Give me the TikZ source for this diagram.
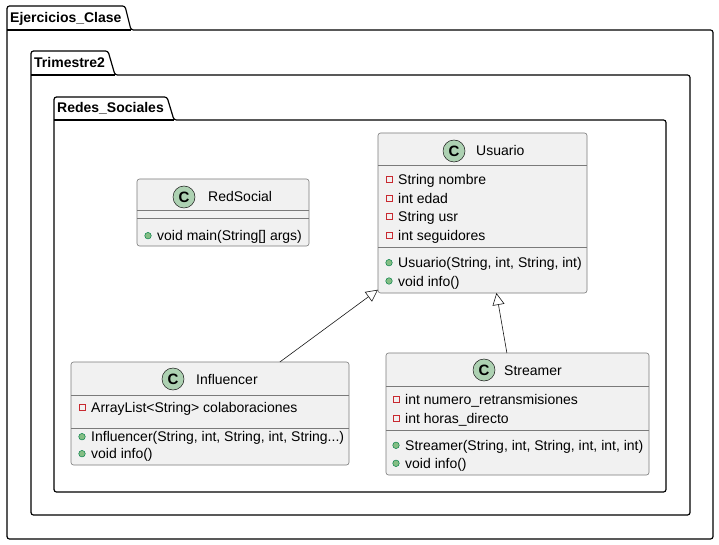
\documentclass[tikz,border=0pt]{standalone}
\usepackage{fontspec}
\setmainfont{Liberation Sans}
\usetikzlibrary{arrows.meta}

\definecolor{umlline}{HTML}{181818}
\definecolor{umlborder}{HTML}{7A7A7A}
\definecolor{umlfill}{HTML}{F1F1F1}
\definecolor{spotfill}{HTML}{ADD1B2}
\definecolor{privred}{HTML}{C82930}
\definecolor{pubfill}{HTML}{84BE84}
\definecolor{publine}{HTML}{038048}

\tikzset{
  pkg/.style={draw=black, line width=1.2pt, rounded corners=2.5pt},
  pkgtitle/.style={anchor=base west, inner sep=0pt, font=\fontsize{14}{16}\selectfont\bfseries},
  umlclass/.style={draw=umlborder, fill=umlfill, line width=0.6pt, rounded corners=2.5pt, inner sep=0pt, outer sep=0pt},
  sepline/.style={draw=umlborder, line width=0.6pt},
  spot/.style={circle, draw=umlline, fill=spotfill, line width=0.5pt, minimum size=22pt, inner sep=0pt, font=\fontsize{15}{16}\selectfont\bfseries},
  cname/.style={anchor=base west, inner sep=0pt, font=\fontsize{14}{16}\selectfont},
  member/.style={anchor=base west, inner sep=0pt, font=\fontsize{14}{16}\selectfont},
  priv/.style={draw=privred, line width=0.6pt, minimum size=6pt, inner sep=0pt},
  pub/.style={circle, draw=publine, fill=pubfill, line width=0.5pt, minimum size=6.5pt, inner sep=0pt},
  inherit/.style={draw=umlline, line width=0.6pt, -{Triangle[open, length=12pt, width=12pt]}}
}

\begin{document}
\begin{tikzpicture}[x=1pt, y=-1pt]
\useasboundingbox (0,0) rectangle (719,545);
\fill[white] (0,0) rectangle (719,545);
% Packages
\foreach \x/\t/\a/\b/\tb/\r/\bt/\name [count=\i] in {7/6/125/131/30/713/539/Ejercicios\_Clase, 31/51/108/115/75/690/515/Trimestre2, 54/97/167/174/120/666/492/Redes\_Sociales} {
  \draw[pkg] (\x,\tb) -- (\x,\t) -- (\a,\t) -- (\b,\tb) -- (\r,\tb) -- (\r,\bt) -- (\x,\bt) -- cycle;
  \draw[pkg] (\x,\tb) -- (\b,\tb);
  \node[pkgtitle] (pkg\i) at (\x+3,\tb-7) {\name};
}

% RedSocial
\node[umlclass, minimum width=172pt, minimum height=67pt] (redsocial) at (223,212.5) {};
\node[spot] (redsocial-c) at (184,197) {C};
\node[cname] (redsocial-n) at (208,202) {RedSocial};
\draw[sepline] (redsocial.west |- 0,210) -- (redsocial.east |- 0,210);
\draw[sepline] (redsocial.west |- 0,218) -- (redsocial.east |- 0,218);
\node[pub] (redsocial-p1) at (148,235.7) {};
\node[member] (redsocial-m1) at (157,240.7) {void main(String[] args)};

% Usuario
\node[umlclass, minimum width=209pt, minimum height=160pt] (usuario) at (482.5,213) {};
\node[spot] (usuario-c) at (454,151) {C};
\node[cname] (usuario-n) at (476,156) {Usuario};
\draw[sepline] (usuario.west |- 0,165) -- (usuario.east |- 0,165);
\draw[sepline] (usuario.west |- 0,247) -- (usuario.east |- 0,247);
\foreach \y/\txt [count=\i] in {179.3/String nombre, 198.3/int edad, 216.7/String usr, 235.3/int seguidores} {
  \node[priv] (usuario-q\i) at (389,\y) {};
  \node[member] (usuario-a\i) at (398,\y+5) {\txt};
}
\foreach \y/\txt [count=\i] in {262.7/{Usuario(String, int, String, int)}, 281/void info()} {
  \node[pub] (usuario-p\i) at (389,\y) {};
  \node[member] (usuario-m\i) at (398,\y+5) {\txt};
}

% Influencer
\node[umlclass, minimum width=278pt, minimum height=103pt] (infl) at (210,413.5) {};
\node[spot] (infl-c) at (173,379) {C};
\node[cname] (infl-n) at (196,384) {Influencer};
\draw[sepline] (infl.west |- 0,395) -- (infl.east |- 0,395);
\draw[sepline] (infl.west |- 0,428) -- (infl.east |- 0,428);
\node[priv] (infl-q1) at (82,407.7) {};
\node[member] (infl-a1) at (91,412.7) {ArrayList<String> colaboraciones};
\foreach \y/\txt [count=\i] in {436.7/{Influencer(String, int, String, int, String...)}, 453.7/void info()} {
  \node[pub] (infl-p\i) at (82,\y) {};
  \node[member] (infl-m\i) at (91,\y+5) {\txt};
}

% Streamer
\node[umlclass, minimum width=263pt, minimum height=122pt] (streamer) at (517.5,414) {};
\node[spot] (streamer-c) at (484,370) {C};
\node[cname] (streamer-n) at (504,375) {Streamer};
\draw[sepline] (streamer.west |- 0,386) -- (streamer.east |- 0,386);
\draw[sepline] (streamer.west |- 0,430) -- (streamer.east |- 0,430);
\foreach \y/\txt [count=\i] in {399.3/int numero\_retransmisiones, 418.3/int horas\_directo} {
  \node[priv] (streamer-q\i) at (396,\y) {};
  \node[member] (streamer-a\i) at (405,\y+5) {\txt};
}
\foreach \y/\txt [count=\i] in {445.3/{Streamer(String, int, String, int, int, int)}, 463.3/void info()} {
  \node[pub] (streamer-p\i) at (396,\y) {};
  \node[member] (streamer-m\i) at (405,\y+5) {\txt};
}

% Herencia
\draw[inherit] (infl) -- (usuario);
\draw[inherit] (streamer) -- (usuario);
\end{tikzpicture}
\end{document}
